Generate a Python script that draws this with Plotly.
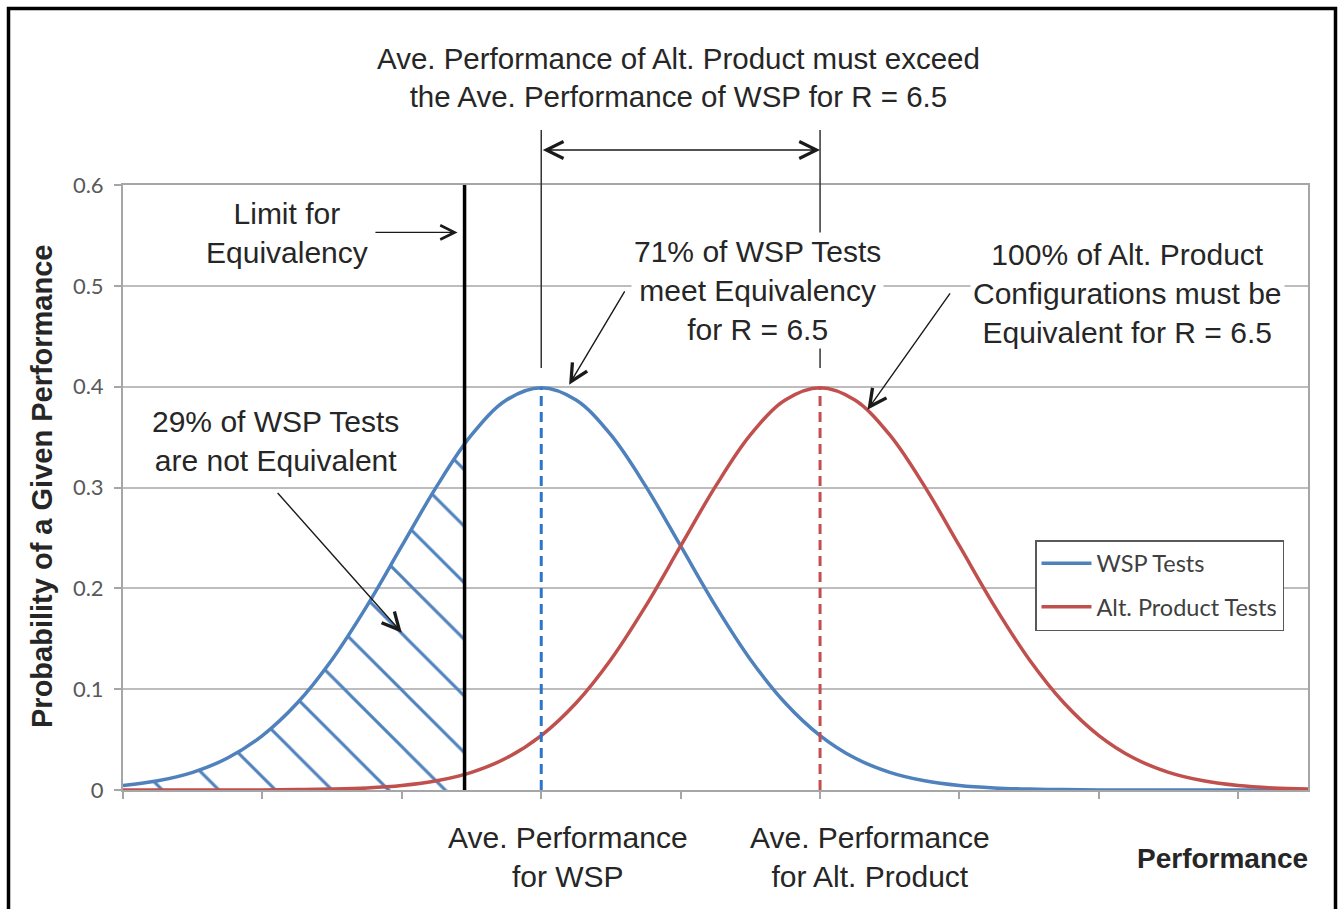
import plotly.graph_objects as go

# ---------------- data ----------------
perf_x = [-3.0, -2.75, -2.5, -2.25, -2.0, -1.75, -1.5, -1.25, -1.0, -0.75, -0.5, -0.25,
          0.0, 0.25, 0.5, 0.75, 1.0, 1.25, 1.5, 1.75, 2.0, 2.25, 2.5, 2.75, 3.0, 3.25,
          3.5, 3.75, 4.0, 4.25, 4.5, 4.75, 5.0, 5.25, 5.5]
wsp_tests = [0.0044, 0.0091, 0.0175, 0.0317, 0.0540, 0.0863, 0.1295, 0.1826, 0.2420, 0.3011,
             0.3521, 0.3867, 0.3989, 0.3867, 0.3521, 0.3011, 0.2420, 0.1826, 0.1295, 0.0863,
             0.0540, 0.0317, 0.0175, 0.0091, 0.0044, 0.0020, 0.0009, 0.0004, 0.0001, 0.0,
             0.0, 0.0, 0.0, 0.0, 0.0]
alt_tests = [0.0, 0.0, 0.0, 0.0, 0.0001, 0.0004, 0.0009, 0.0020, 0.0044, 0.0091,
             0.0175, 0.0317, 0.0540, 0.0863, 0.1295, 0.1826, 0.2420, 0.3011, 0.3521, 0.3867,
             0.3989, 0.3867, 0.3521, 0.3011, 0.2420, 0.1826, 0.1295, 0.0863, 0.0540, 0.0317,
             0.0175, 0.0091, 0.0044, 0.0020, 0.0009]
wsp_mean = 0.0
alt_mean = 2.0
limit_x = -0.55
limit_y = 0.343          # WSP curve height at the limit
y_ticks = [0, 0.1, 0.2, 0.3, 0.4, 0.5, 0.6]
x_ticks = [-3, -2, -1, 0, 1, 2, 3, 4, 5]

# hatched (not-equivalent) region of the WSP curve
hatch_x = [v for v in perf_x if v < limit_x] + [limit_x]
hatch_y = [y for v, y in zip(perf_x, wsp_tests) if v < limit_x] + [limit_y]

BLUE = "#4F81BD"
RED = "#C0504D"
NARROW = "Liberation Sans Narrow, Arial Narrow, Liberation Sans, Arial, sans-serif"
UI = "Lato, Open Sans, sans-serif"
TXT = "#262626"

# plot-area placement in pixels
W, H = 1338, 909
L, R, T, B = 123, 1308, 185, 790


def px(xp):
    return (xp - L) / (R - L)


def py(yp):
    return (B - yp) / (B - T)


fig = go.Figure()

fig.add_trace(go.Scatter(
    x=hatch_x, y=hatch_y, mode="lines", line=dict(width=0, shape="spline", color=BLUE),
    fill="tozeroy", fillcolor="rgba(255,255,255,0)",
    fillpattern=dict(shape="\\", fgcolor=BLUE, bgcolor="rgba(255,255,255,0)",
                     fgopacity=1, size=40, solidity=0.075),
    showlegend=False, hoverinfo="skip"))

fig.add_trace(go.Scatter(
    x=perf_x, y=wsp_tests, mode="lines", name="WSP Tests", legendgroup="a",
    line=dict(color=BLUE, width=3.5, shape="spline")))
fig.add_trace(go.Scatter(
    x=perf_x, y=alt_tests, mode="lines", name="Alt. Product Tests", legendgroup="b",
    line=dict(color=RED, width=3.5, shape="spline")))

shapes = [
    # limit line
    dict(type="line", xref="x", yref="y", x0=limit_x, x1=limit_x, y0=0, y1=0.6,
         line=dict(color="black", width=3.5)),
    # mean dashed lines
    dict(type="line", xref="x", yref="y", x0=wsp_mean, x1=wsp_mean, y0=0, y1=max(wsp_tests),
         line=dict(color="#2E75C8", width=3, dash="10px,6px")),
    dict(type="line", xref="x", yref="y", x0=alt_mean, x1=alt_mean, y0=0, y1=max(alt_tests),
         line=dict(color=RED, width=3, dash="10px,6px")),
    # thin leader lines above the peaks
    dict(type="line", xref="x", yref="paper", x0=wsp_mean, x1=wsp_mean, y0=py(368), y1=py(130),
         line=dict(color="#333333", width=1.5)),
    dict(type="line", xref="x", yref="paper", x0=alt_mean, x1=alt_mean, y0=py(368), y1=py(130),
         line=dict(color="#333333", width=1.5)),
    # outer frame
    dict(type="rect", xref="paper", yref="paper", x0=px(8.5), x1=px(1335.5), y0=py(925), y1=py(8.5),
         line=dict(color="black", width=3.5), fillcolor="rgba(0,0,0,0)"),
]

ann = []


def text(t, xp, yp, size=30, bg=None, bold=False, angle=0):
    ann.append(dict(text=f"<b>{t}</b>" if bold else t, xref="paper", yref="paper",
                    x=px(xp), y=py(yp), xanchor="center", yanchor="middle",
                    showarrow=False, textangle=angle,
                    font=dict(family=NARROW, size=size, color=TXT),
                    bgcolor=bg, borderpad=2))


def arrow(x_head, y_head, x_tail, y_tail, size=2.4):
    ann.append(dict(text="", x=x_head, y=y_head, ax=x_tail, ay=y_tail, xref="x", yref="y",
                    axref="x", ayref="y", showarrow=True, arrowhead=5, arrowsize=size,
                    arrowwidth=1.4, arrowcolor="#1A1A1A", standoff=0))


text("Ave. Performance of Alt. Product must exceed<br>the Ave. Performance of WSP for R = 6.5", 678, 77, size=29.5)
text("Limit for<br>Equivalency", 287, 233)
text("71% of WSP Tests<br>meet Equivalency<br>for R = 6.5", 757, 290, bg="white")
text("100% of Alt. Product<br>Configurations must be<br>Equivalent for R = 6.5", 1127, 293, bg="white")
text("29% of WSP Tests<br>are not Equivalent", 275, 441, bg="white")
text("Ave. Performance<br>for WSP", 568, 857)
text("Ave. Performance<br>for Alt. Product", 870, 857)
text("Performance", 1222, 858, size=28, bold=True)
text("Probability of a Given Performance", 42, 487, size=29, bold=True, angle=-90)

# pointer arrows
arrow(-0.60, 0.553, -1.20, 0.553, size=2.0)
arrow(0.20, 0.402, 0.605, 0.496)
arrow(2.34, 0.377, 2.94, 0.494)
arrow(-1.0, 0.156, -1.90, 0.296)
# double-headed span arrow between the means
ann.append(dict(text="", x=alt_mean, y=py(150), xref="x", yref="paper",
                ax=wsp_mean, ay=0, axref="x", ayref="pixel",
                showarrow=True, arrowhead=5, startarrowhead=5, arrowside="end+start",
                arrowsize=2.4, startarrowsize=2.4, arrowwidth=1.4, arrowcolor="#1A1A1A",
                standoff=0, startstandoff=0))

fig.update_layout(
    width=W, height=H,
    margin=dict(l=L, r=W - R, t=T, b=H - B, pad=0),
    paper_bgcolor="white", plot_bgcolor="white",
    shapes=shapes, annotations=ann,
    showlegend=True,
    legend=dict(x=px(1035), y=py(540), xanchor="left", yanchor="top",
                bgcolor="white", bordercolor="#595959", borderwidth=1.5,
                font=dict(family=UI, size=23.5, color="#404040"),
                tracegroupgap=10, itemwidth=50),
    xaxis=dict(range=[-3, 5.5], tickvals=x_ticks, showticklabels=False, ticks="outside",
               ticklen=7, tickcolor="#A6A6A6", tickwidth=1.5, showgrid=False, zeroline=False,
               showline=True, linecolor="#A6A6A6", linewidth=2, mirror=True),
    yaxis=dict(range=[0, 0.6], tickvals=y_ticks, ticks="outside", ticklen=7,
               tickcolor="#A6A6A6", tickwidth=1.5, showgrid=True, gridcolor="#BDBDBD",
               gridwidth=1.5, zeroline=False, showline=True, linecolor="#A6A6A6", linewidth=2,
               mirror=True, ticklabelstandoff=6,
               tickfont=dict(family=UI, size=22, color="#595959")),
)

fig.write_html("out.html", config={"displayModeBar": False},
               post_script="document.body.style.margin='0';")
